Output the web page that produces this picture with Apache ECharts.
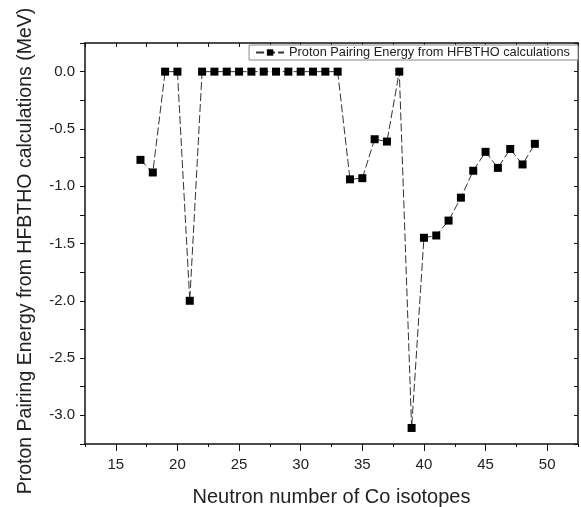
<!DOCTYPE html>
<html>
<head>
<meta charset="utf-8">
<script src="https://cdn.jsdelivr.net/npm/echarts@6.0.0/dist/echarts.min.js"></script>
<style>
  html, body { margin: 0; padding: 0; background: #fff; }
  #main { width: 581px; height: 507px; }
</style>
</head>
<body>
<div id="main"></div>
<script>
// neutron number N of the Co isotopes
var neutrons = [17, 18, 19, 20, 21, 22, 23, 24, 25, 26, 27, 28, 29, 30, 31, 32, 33,
                34, 35, 36, 37, 38, 39, 40, 41, 42, 43, 44, 45, 46, 47, 48, 49];
// proton pairing energy (MeV)
var pairing = [-0.77, -0.88, 0, 0, -2.0, 0, 0, 0, 0, 0, 0, 0, 0, 0, 0, 0, 0,
               -0.94, -0.93, -0.59, -0.61, 0, -3.11, -1.45, -1.43, -1.30, -1.10, -0.865,
               -0.70, -0.84, -0.675, -0.81, -0.63];
var xTicks = [15, 20, 25, 30, 35, 40, 45, 50];
var yTicks = [0.0, -0.5, -1.0, -1.5, -2.0, -2.5, -3.0];
var seriesName = 'Proton Pairing Energy from HFBTHO calculations';

var points = [];
for (var i = 0; i < neutrons.length; i++) {
    points.push([neutrons[i], pairing[i]]);
}

var font = 'Liberation Sans, Arial, sans-serif';
var ink = '#222';

var myChart = echarts.init(document.getElementById('main'));

var boxAxis = {
    type: 'value',
    axisLine: { show: true, onZero: false, lineStyle: { color: '#111', width: 1.5 } },
    axisLabel: { show: false },
    splitLine: { show: false }
};

myChart.setOption({
    animation: false,
    backgroundColor: '#fff',
    textStyle: { fontFamily: font, color: ink },
    grid: { left: 85, right: 3, top: 43, bottom: 63, containLabel: false, outerBoundsMode: 'none' },
    legend: {
        data: [seriesName],
        right: 3,
        top: 45,
        padding: [1, 8, 1, 6],
        itemWidth: 28,
        itemHeight: 8,
        borderColor: '#888',
        borderWidth: 1,
        backgroundColor: '#fff',
        textStyle: { fontFamily: font, fontSize: 12.8, color: ink }
    },
    xAxis: [
        {   // bottom axis, minor ticks + labels
            type: 'value', position: 'bottom',
            min: 12.5, max: 52.5, interval: 2.5,
            name: 'Neutron number of Co isotopes',
            nameLocation: 'middle', nameGap: 43,
            nameTextStyle: { fontFamily: font, fontSize: 20, color: ink },
            axisLine: { show: true, onZero: false, lineStyle: { color: '#111', width: 1.5 } },
            axisTick: { show: true, inside: false, length: 3, lineStyle: { color: '#111' } },
            axisLabel: {
                fontFamily: font, fontSize: 15, color: ink, margin: 13,
                formatter: function (v) {
                    return xTicks.indexOf(Math.round(v * 10) / 10) >= 0 ? String(Math.round(v)) : '';
                }
            },
            splitLine: { show: false }
        },
        {   // bottom axis, major ticks
            type: 'value', position: 'bottom',
            min: 12.5, max: 52.5,
            axisLine: { show: false, onZero: false },
            axisTick: { show: true, inside: false, length: 7, customValues: xTicks, lineStyle: { color: '#111' } },
            axisLabel: { show: false },
            splitLine: { show: false }
        },
        Object.assign({}, boxAxis, {
            position: 'top', min: 12.5, max: 52.5, interval: 2.5,
            axisTick: { show: true, inside: true, length: 4, lineStyle: { color: '#111' } }
        })
    ],
    yAxis: [
        {
            type: 'value', position: 'left',
            min: -3.25, max: 0.25, interval: 0.25,
            name: 'Proton Pairing Energy from HFBTHO calculations (MeV)',
            nameLocation: 'middle', nameGap: 49,
            nameTextStyle: { fontFamily: font, fontSize: 19.5, color: ink, padding: [0, 15, 0, 0] },
            axisLine: { show: true, onZero: false, lineStyle: { color: '#111', width: 1.5 } },
            axisTick: { show: true, inside: false, length: 5, lineStyle: { color: '#111' } },
            axisLabel: {
                fontFamily: font, fontSize: 15, color: ink, margin: 10,
                formatter: function (v) {
                    var r = Math.round(v * 10) / 10;
                    return yTicks.indexOf(r) >= 0 && Math.abs(v - r) < 1e-6 ? r.toFixed(1) : '';
                }
            },
            splitLine: { show: false }
        },
        Object.assign({}, boxAxis, {
            position: 'right', min: -3.25, max: 0.25, interval: 0.25,
            axisTick: { show: true, inside: true, length: 4, lineStyle: { color: '#111' } }
        })
    ],
    series: [
        {
            name: seriesName,
            type: 'line',
            xAxisIndex: 0,
            yAxisIndex: 0,
            data: points,
            symbol: 'rect',
            symbolSize: 8,
            itemStyle: { color: '#000' },
            lineStyle: { color: '#333', width: 1, type: [8, 3] }
        }
    ]
});
</script>
</body>
</html>
